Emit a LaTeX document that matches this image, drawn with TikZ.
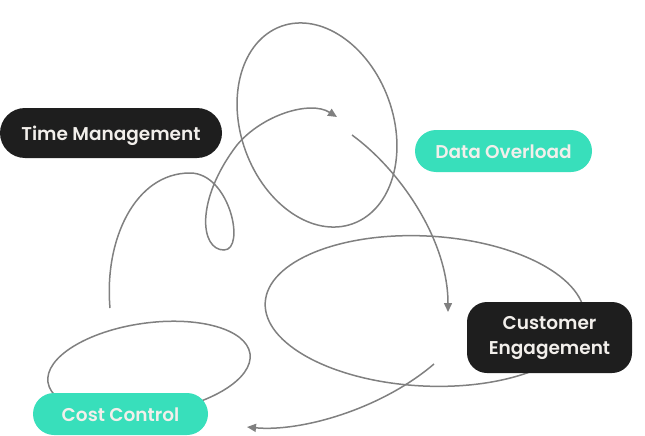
\documentclass[tikz,border=0pt]{standalone}
\usepackage{fontspec}
\setmainfont{Poppins}[BoldFont={Poppins SemiBold}]
\usetikzlibrary{arrows.meta}
\definecolor{pillblack}{HTML}{1E1E1E}
\definecolor{pillgreen}{HTML}{38DFBB}
\definecolor{swirlgray}{HTML}{808080}
\definecolor{pilltext}{HTML}{F2EFEB}
\tikzset{
  pill/.style={text=pilltext, font=\bfseries\fontsize{18.5}{25}\selectfont, inner sep=0pt, rounded corners=21pt},
  oneline/.style={text height=14pt, text depth=0pt},
  darkpill/.style={pill, fill=pillblack},
  greenpill/.style={pill, oneline, fill=pillgreen},
  swirl/.style={draw=swirlgray, line width=1.5pt},
  tip/.style={-{Triangle[length=9pt,width=8pt]}}
}
\begin{document}
\begin{tikzpicture}[x=1pt,y=-1pt]
  \useasboundingbox (0,0) rectangle (645,436);
  % loose ends of the swirls
  \coordinate (loopstart) at (110,308);
  \coordinate (loopend) at (337,117);
  \coordinate (dropstart) at (352,135);
  \coordinate (dropend) at (448,312);
  \coordinate (sweepstart) at (434,364);
  \coordinate (sweepend) at (247,427);
  % rings
  \draw[swirl, rotate around={-70:(317,125)}] (317,125) ellipse [x radius=105, y radius=76];
  \draw[swirl, rotate around={-3:(425,311)}] (425,311) ellipse [x radius=160, y radius=75];
  \draw[swirl, rotate around={8:(149,368)}] (149,368) ellipse [x radius=102, y radius=45];
  % arrows
  \draw[swirl, tip] (loopstart) .. controls (104,240) and (135,173) .. (190,173)
    .. controls (230,173) and (246,250) .. (224,250)
    .. controls (200,250) and (195,200) .. (237,145)
    .. controls (262,115) and (310,100) .. (loopend);
  \draw[swirl, tip] (dropstart) .. controls (400,170) and (448,240) .. (dropend);
  \draw[swirl, tip] (sweepstart) .. controls (380,410) and (300,432) .. (sweepend);
  % labels
  \node[darkpill, oneline, minimum width=222pt, minimum height=50pt, rounded corners=25pt] (time) at (111,133) {Time Management};
  \node[greenpill, minimum width=177pt, minimum height=42pt] (data) at (503.5,151) {Data Overload};
  \node[darkpill, minimum width=165pt, minimum height=71pt, rounded corners=20pt, align=center] (customer) at (549.5,337.5) {Customer\\Engagement};
  \node[greenpill, minimum width=175pt, minimum height=42pt] (cost) at (120.5,414) {Cost Control};
\end{tikzpicture}
\end{document}
